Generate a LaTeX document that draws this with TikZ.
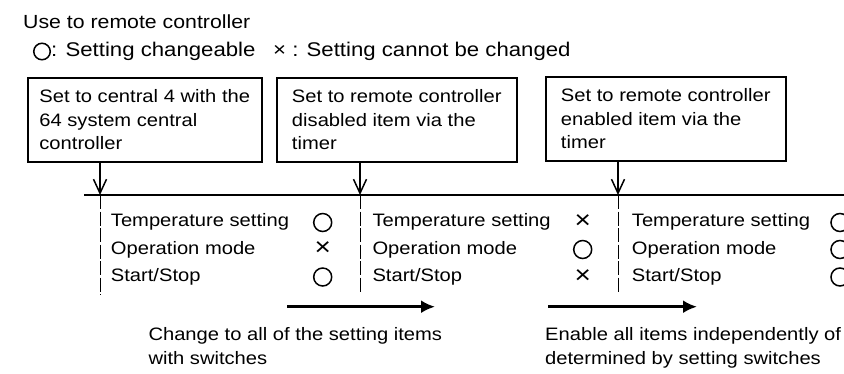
\documentclass[tikz,border=0pt]{standalone}
\usepackage{fontspec}
\setmainfont[FakeStretch=1.12]{Liberation Sans}
\usetikzlibrary{arrows,arrows.meta,positioning}

\begin{document}
\begin{tikzpicture}[x=1pt,y=-1pt,font=\fontsize{18}{23.5}\selectfont]
\tikzstyle{line} = [draw, line width=1.5pt, -{Straight Barb[length=14pt,width=13pt]}]
\tikzstyle{change} = [draw, line width=3pt, -{Latex[length=14pt,width=13pt]}]
\tikzstyle{stage} = [draw, line width=1.5pt, anchor=north west, align=left, minimum height=84pt]
\tikzstyle{divider} = [draw, line width=1pt, dash pattern=on 14pt off 2.5pt]
\tikzstyle{item} = [anchor=base west, inner sep=0pt]
\tikzstyle{yes} = [draw, circle, line width=1.5pt, minimum size=18pt, inner sep=0pt]
\tikzstyle{no} = [inner sep=0pt, font=\fontsize{25}{25}\selectfont]

\useasboundingbox (0,0) rectangle (844,373);

% legend
\node[item, font=\fontsize{19}{23}\selectfont] (Title) at (23,28) {Use to remote controller};
\node[yes, minimum size=16.5pt] (LegYes) at (42,51.5) {};
\node[item, font=\fontsize{19.8}{23}\selectfont] (LegYesText) at (51,56) {: Setting changeable};
\node[item, font=\fontsize{19.8}{23}\selectfont] (LegNo) at (273,56) {× : Setting cannot be changed};

% the three settings
\node[stage, minimum width=234pt] (Central) at (27,77)
{Set to central 4 with the\\64 system central\\controller};
\node[stage, minimum width=240pt] (Disabled) at (276,77)
{Set to remote controller\\disabled item via the\\timer};
\node[stage, minimum width=240pt] (Enabled) at (545,76)
{Set to remote controller\\enabled item via the\\timer};

% time line
\coordinate (Start) at (84,195);
\coordinate (End) at (850,195);
\draw[line width=1.5pt] (Start) -- (End);

\coordinate (D1) at (100,195);
\coordinate (D2) at (360,195);
\coordinate (D3) at (618,195);
\coordinate (D1e) at (100,295);
\coordinate (D2e) at (360,292);
\coordinate (D3e) at (618,292);

\draw[line] (Central.south -| D1) -- (D1);
\draw[line] (Disabled.south -| D2) -- (D2);
\draw[line] (Enabled.south -| D3) -- (D3);

\draw[divider] (D1) -- (D1e);
\draw[divider] (D2) -- (D2e);
\draw[divider] (D3) -- (D3e);

% first state
\node[item] (Temp1) at (110.7,226.7) {Temperature setting};
\node[item] (Mode1) at (110.7,254) {Operation mode};
\node[item] (Run1) at (110.7,281.7) {Start/Stop};
\node[yes] (TempOk1) at (322.7,222.5) {};
\node[no] (ModeOk1) at (322.7,249) {×};
\node[yes] (RunOk1) at (322.7,277) {};

% second state
\node[item] (Temp2) at (372.3,226.7) {Temperature setting};
\node[item] (Mode2) at (372.3,254) {Operation mode};
\node[item] (Run2) at (372.3,281.7) {Start/Stop};
\node[no] (TempOk2) at (582.7,222) {×};
\node[yes] (ModeOk2) at (582.7,249.5) {};
\node[no] (RunOk2) at (582.7,277) {×};

% third state
\node[item] (Temp3) at (631.7,226.7) {Temperature setting};
\node[item] (Mode3) at (631.7,254) {Operation mode};
\node[item] (Run3) at (631.7,281.7) {Start/Stop};
\node[yes] (TempOk3) at (840,222.5) {};
\node[yes] (ModeOk3) at (840,249.5) {};
\node[yes] (RunOk3) at (840,277) {};

% changes
\coordinate (S1a) at (287,306.7);
\coordinate (S1b) at (435,306.7);
\coordinate (S2a) at (548,306.7);
\coordinate (S2b) at (697,306.7);
\draw[change] (S1a) -- (S1b);
\draw[change] (S2a) -- (S2b);

\node[item, align=left, font=\fontsize{18}{24}\selectfont] (Change) at (148.3,364.3)
{Change to all of the setting items\\with switches};
\node[item, align=left, font=\fontsize{18}{24}\selectfont] (Enable) at (545,364.3)
{Enable all items independently of\\determined by setting switches};

\end{tikzpicture}
\end{document}
